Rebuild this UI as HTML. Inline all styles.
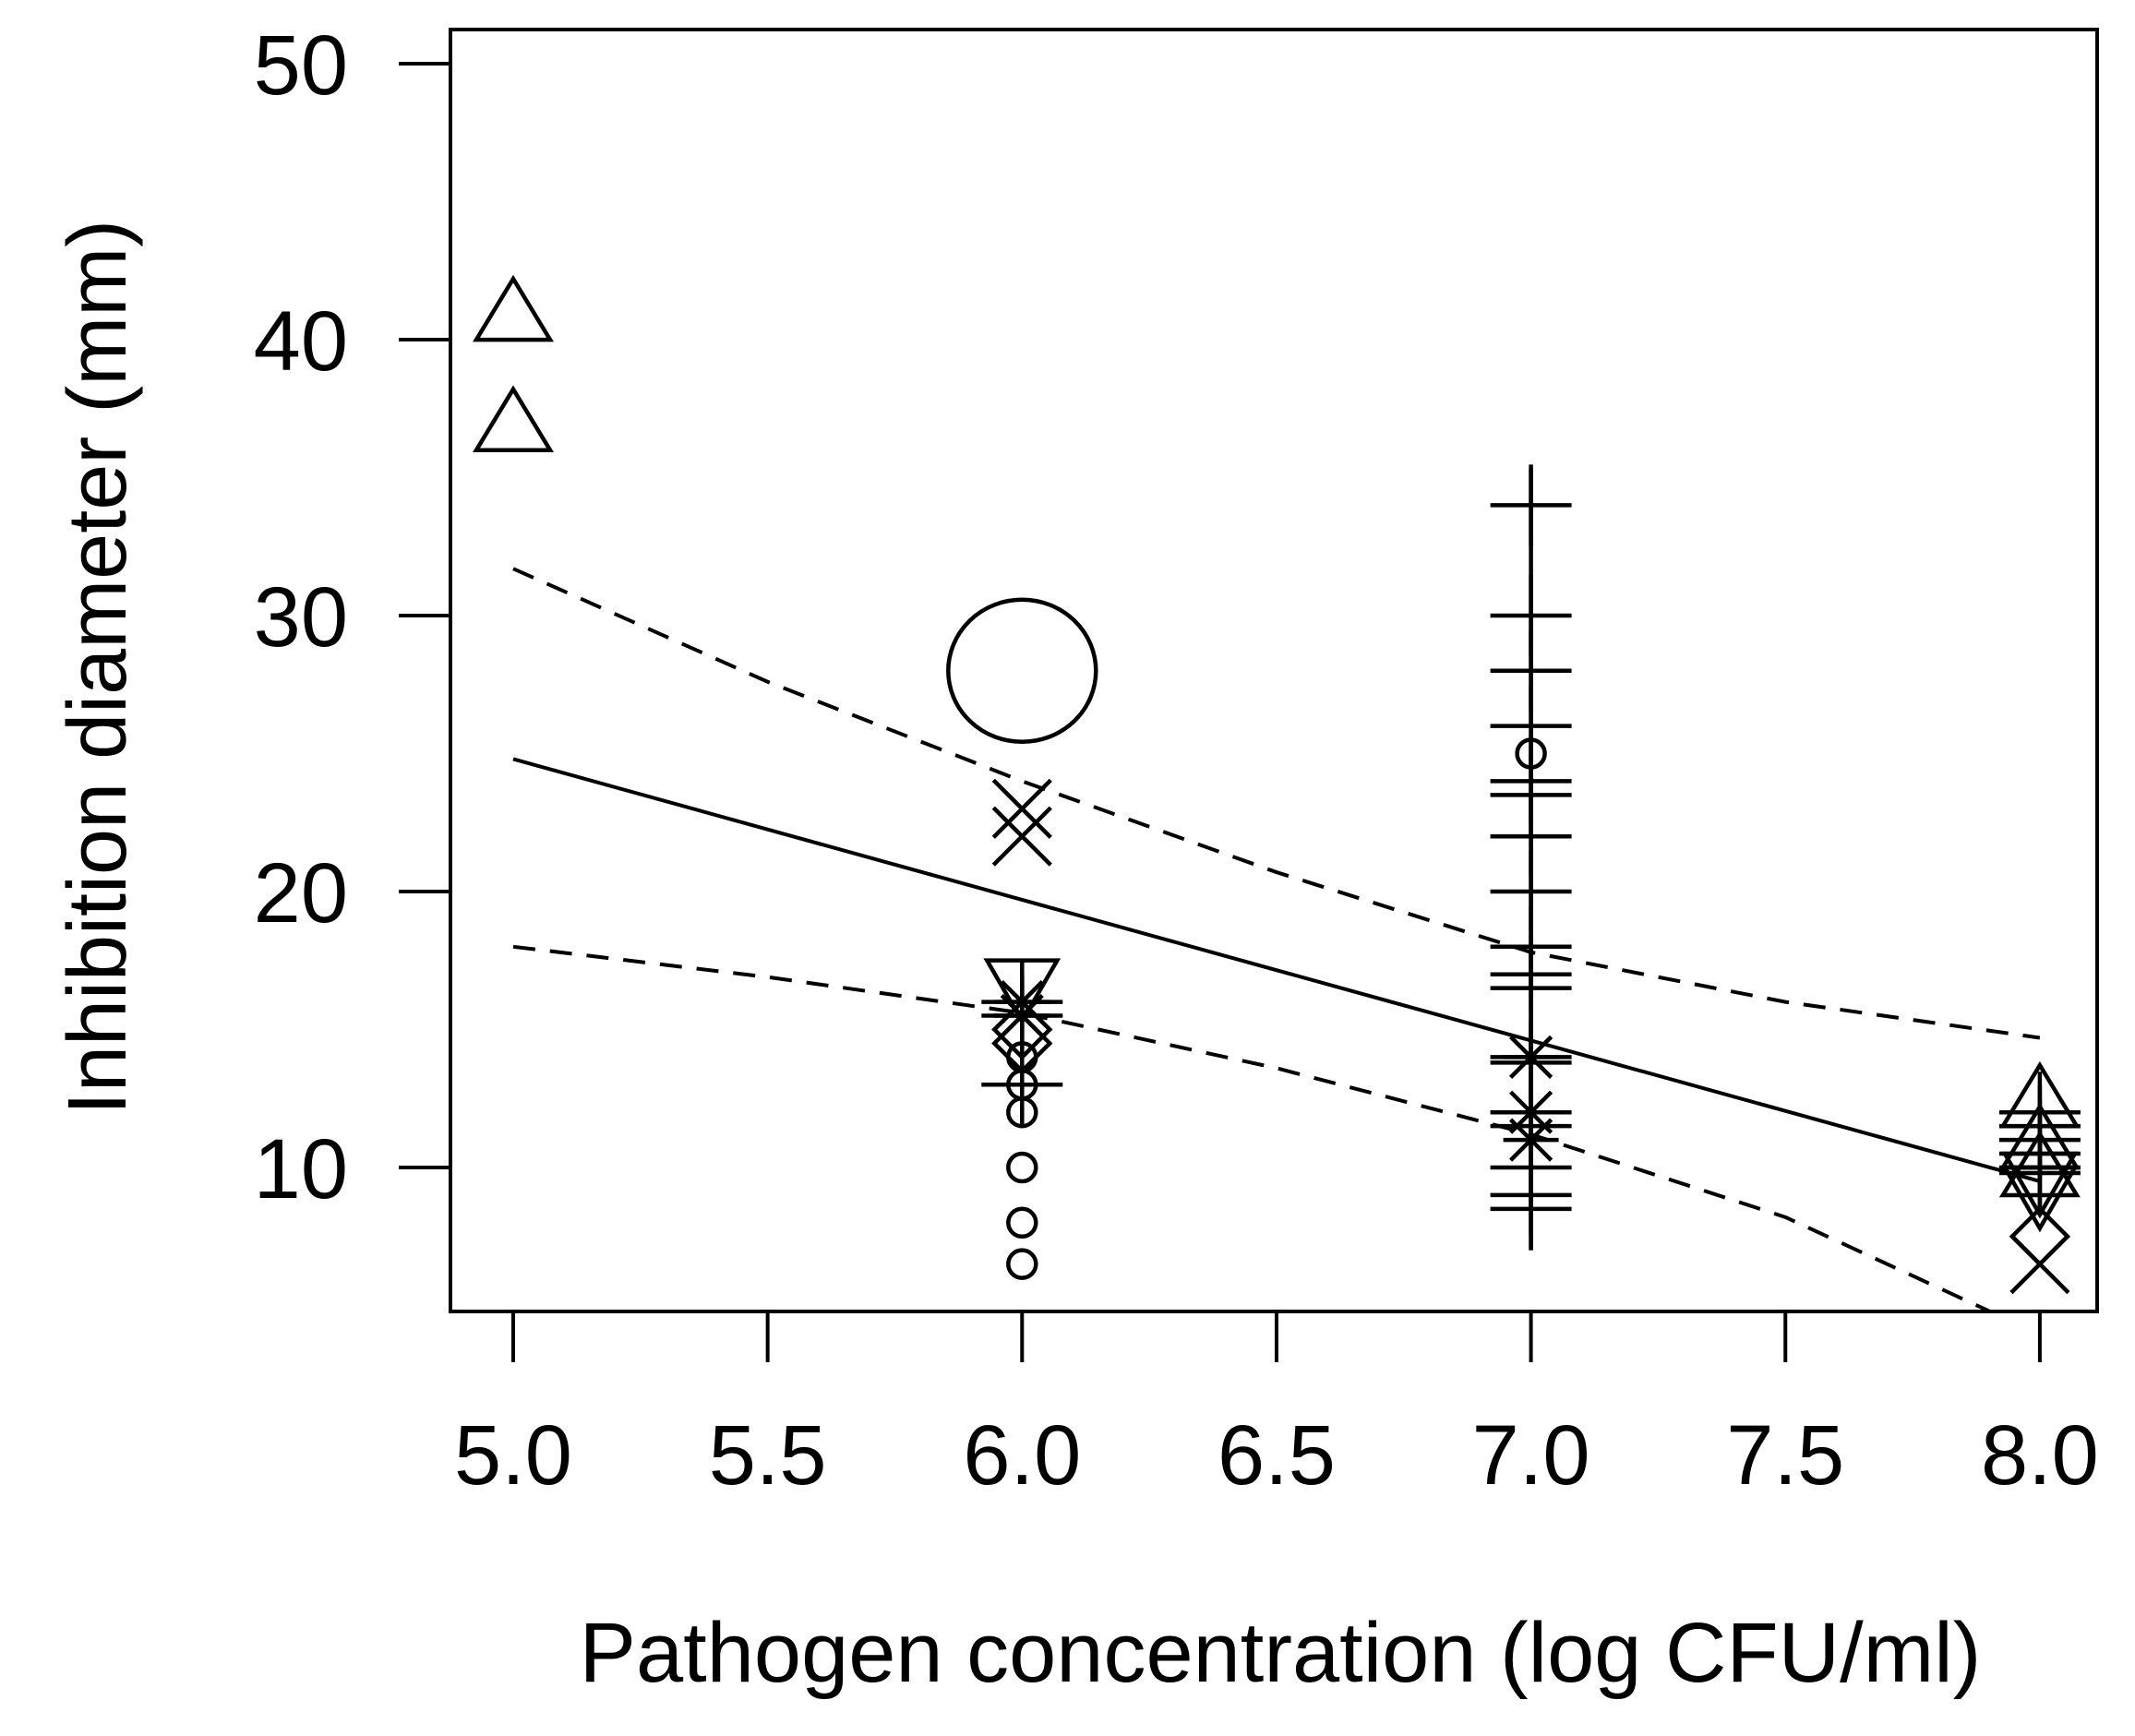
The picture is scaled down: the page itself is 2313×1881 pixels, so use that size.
<!DOCTYPE html>
<html><head><meta charset="utf-8"><style>
html,body{margin:0;padding:0;background:#fff;}
svg{display:block;font-family:"Liberation Sans",sans-serif;}
</style></head><body>
<svg id="chart" width="2313" height="1881" viewBox="0 0 2313 1881" xmlns="http://www.w3.org/2000/svg">
<rect x="488" y="32" width="1784" height="1389" fill="none" stroke="#000" stroke-width="4"/>
<g id="axes"></g>
<g id="fits"></g>
<g id="marks" fill="none" stroke="#000" stroke-width="4.5"></g>
<text x="1387" y="1822" font-size="92" text-anchor="middle">Pathogen concentration (log CFU/ml)</text>
<text transform="translate(136,723) rotate(-90)" font-size="90" text-anchor="middle">Inhibition diameter (mm)</text>
</svg>
<script>
const xTicks = [5.0, 5.5, 6.0, 6.5, 7.0, 7.5, 8.0];
const xTickLabels = ["5.0","5.5","6.0","6.5","7.0","7.5","8.0"];
const yTicks = [10, 20, 30, 40, 50];
const yTickLabels = ["10","20","30","40","50"];
const fitX = [5, 8];
const fitY = [24.8, 9.5];
const upperX = [5, 5.5, 6, 6.5, 7, 7.5, 8];
const upperY = [31.7, 27.6, 24.0, 20.7, 17.8, 16.0, 14.7];
const lowerX = [5, 5.5, 6, 6.5, 7, 7.5, 7.9];
const lowerY = [18.0, 16.9, 15.6, 13.6, 11.2, 8.2, 4.8];
const triUpX = [5, 5, 8, 8, 8];
const triUpY = [41, 37, 12.5, 11, 10];
const bigCircleX = [6];
const bigCircleY = [28];
const crossX = [6, 6, 8];
const crossY = [23, 22, 6.5];
const triDownX = [6, 8, 8];
const triDownY = [16.5, 9.5, 9];
const starX = [6, 6, 7, 7, 7];
const starY = [16, 15.5, 14, 12, 11];
const diamondX = [6, 6, 8];
const diamondY = [15, 14.5, 7.5];
const plusX = [6, 6, 6, 7, 7, 7, 7, 7, 7, 7, 7, 7, 7, 7, 7, 7, 7, 7, 7, 7, 7, 8, 8, 8, 8, 8, 8];
const plusY = [16, 15.5, 13, 34, 30, 28, 26, 24, 23.5, 22, 20, 18, 17, 16.5, 14, 13.8, 12, 11.5, 10, 9, 8.5, 12, 11.5, 11, 10.5, 10, 9.8];
const smallCircleX = [6, 6, 6, 6, 6, 6, 7];
const smallCircleY = [14, 13, 12, 10, 8, 6.5, 25];
const stemX = [7];
const stemLo = [7];
const stemHi = [35.3];

const NS = "http://www.w3.org/2000/svg";
function sx(v){ return 556 + (v - 5) * 551.3; }
function sy(v){ return 1265 - (v - 10) * 29.9; }
function mk(tag, attrs, parent){
  const e = document.createElementNS(NS, tag);
  for (const k in attrs) e.setAttribute(k, attrs[k]);
  parent.appendChild(e);
  return e;
}
const axes = document.getElementById('axes');
xTicks.forEach((v, i) => {
  const t = mk('line', {x1: sx(v), x2: sx(v), y1: 1421, y2: 1476, stroke: '#000', 'stroke-width': 4}, axes);
  
  
  const l = mk('text', {x: sx(v), y: 1608, 'font-size': 92, 'text-anchor': 'middle'}, axes);
  l.textContent = xTickLabels[i];
  
  
});
yTicks.forEach((v, i) => {
  const t = mk('line', {x1: 432, x2: 488, y1: sy(v), y2: sy(v), stroke: '#000', 'stroke-width': 4}, axes);
  
  
  const l = mk('text', {x: 377, y: sy(v) + 33, 'font-size': 92, 'text-anchor': 'end'}, axes);
  l.textContent = yTickLabels[i];
  
  
});
const fits = document.getElementById('fits');
function poly(xs, ys, dash, name){
  const p = mk('polyline', {points: xs.map((x, i) => sx(x) + ',' + sy(ys[i])).join(' '), fill: 'none', stroke: '#000', 'stroke-width': 4, 'stroke-dasharray': dash}, fits);
  
  
}
poly(fitX, fitY, 'none', 'regression-line');
poly(upperX, upperY, '24,16', 'upper-confidence-band');
poly(lowerX, lowerY, '24,16', 'lower-confidence-band');

const g = document.getElementById('marks');
stemX.forEach((x, i) => {
  const e = mk('line', {x1: sx(x), x2: sx(x), y1: sy(stemLo[i]), y2: sy(stemHi[i])}, g);
  
  
});
triUpX.forEach((x, i) => {
  const cx = sx(x), cy = sy(triUpY[i]);
  const e = mk('polygon', {points: `${cx-40},${cy+30} ${cx+40},${cy+30} ${cx},${cy-36}`}, g);
  
  
});
triDownX.forEach((x, i) => {
  const cx = sx(x), cy = sy(triDownY[i]);
  const e = mk('polygon', {points: `${cx-38},${cy-30} ${cx+38},${cy-30} ${cx},${cy+36}`}, g);
  
  
});
bigCircleX.forEach((x, i) => {
  const e = mk('ellipse', {cx: sx(x), cy: sy(bigCircleY[i]), rx: 80, ry: 77}, g);
  
  
});
crossX.forEach((x, i) => {
  const cx = sx(x), cy = sy(crossY[i]);
  const e = mk('path', {d: `M${cx-31},${cy-31}L${cx+31},${cy+31}M${cx-31},${cy+31}L${cx+31},${cy-31}`}, g);
  
  
});
starX.forEach((x, i) => {
  const cx = sx(x), cy = sy(starY[i]);
  const e = mk('path', {d: `M${cx-22},${cy-22}L${cx+22},${cy+22}M${cx-22},${cy+22}L${cx+22},${cy-22}M${cx},${cy-30}L${cx},${cy+30}M${cx-30},${cy}L${cx+30},${cy}`}, g);
  
  
});
diamondX.forEach((x, i) => {
  const cx = sx(x), cy = sy(diamondY[i]);
  const e = mk('polygon', {points: `${cx},${cy-30} ${cx+30},${cy} ${cx},${cy+30} ${cx-30},${cy}`}, g);
  
  
});
plusX.forEach((x, i) => {
  const cx = sx(x), cy = sy(plusY[i]);
  const e = mk('path', {d: `M${cx-44},${cy}L${cx+44},${cy}M${cx},${cy-44}L${cx},${cy+44}`}, g);
  
  
});
smallCircleX.forEach((x, i) => {
  const e = mk('circle', {cx: sx(x), cy: sy(smallCircleY[i]), r: 15}, g);
  
  
});
</script>
</body></html>
